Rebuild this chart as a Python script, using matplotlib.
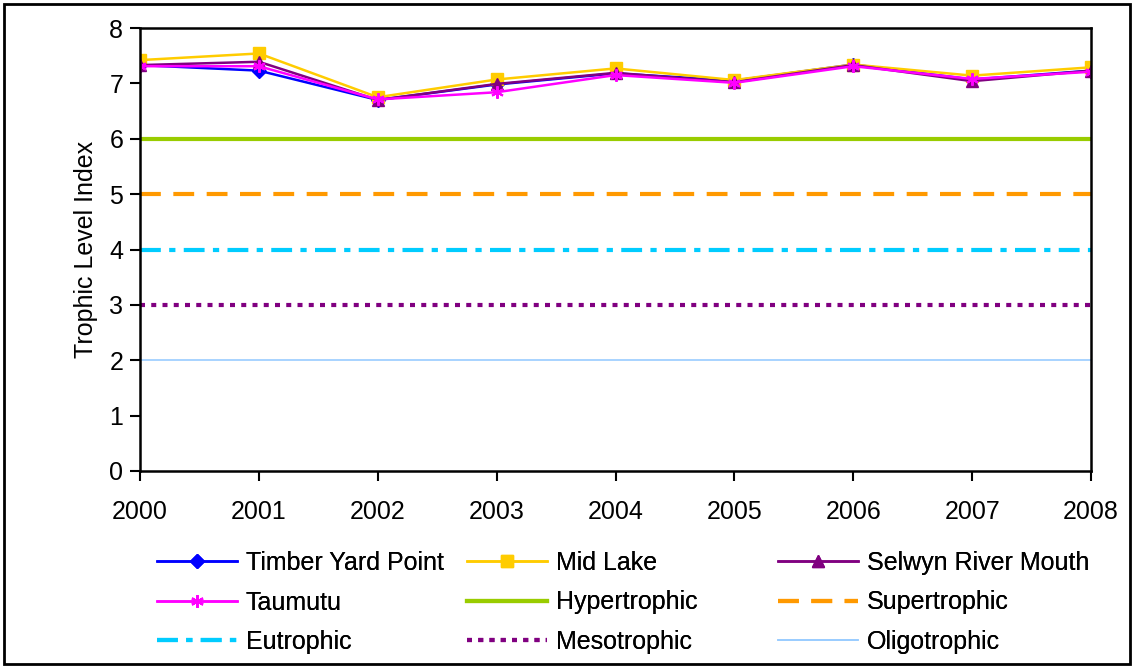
import matplotlib.pyplot as plt
import matplotlib.patches as patches
import numpy as np

plt.rcParams['font.family'] = ['Liberation Sans', 'DejaVu Sans']

years = [2000, 2001, 2002, 2003, 2004, 2005, 2006, 2007, 2008]

timber_yard = [7.33, 7.23, 6.70, 6.98, 7.18, 7.05, 7.34, 7.07, 7.23]
mid_lake = [7.42, 7.54, 6.75, 7.07, 7.27, 7.06, 7.34, 7.14, 7.29]
selwyn = [7.33, 7.39, 6.70, 6.99, 7.19, 7.02, 7.33, 7.04, 7.23]
taumutu = [7.31, 7.31, 6.71, 6.84, 7.15, 7.01, 7.31, 7.08, 7.21]

# trophic state boundaries
hypertrophic = 6
supertrophic = 5
eutrophic = 4
mesotrophic = 3
oligotrophic = 2

W, H = 1133, 667
fig = plt.figure(figsize=(W / 100, H / 100), dpi=100)
ax = fig.add_axes([140 / W, 1 - 471 / H, 951 / W, 443 / H])

x = np.arange(len(years))

# outer frame of the figure
fig.patches.append(patches.Rectangle((4 / W, 3 / H), 1126 / W, 660 / H,
                                     transform=fig.transFigure, fill=False,
                                     edgecolor='black', linewidth=2))

h_typ, = ax.plot(x, timber_yard, color='#0000FF', lw=1.8, marker='D', ms=7,
                 label='Timber Yard Point')
h_mid, = ax.plot(x, mid_lake, color='#FFCC00', lw=1.8, marker='s', ms=8,
                 label='Mid Lake')
h_sel, = ax.plot(x, selwyn, color='#800080', lw=1.8, marker='^', ms=9,
                 label='Selwyn River Mouth')
h_tau, = ax.plot(x, taumutu, color='#FF00FF', lw=1.8, marker=(6, 2, 0), ms=9,
                 mew=1.5, label='Taumutu')

h_hyp = ax.axhline(hypertrophic, color='#99CC00', lw=3, label='Hypertrophic')
h_sup = ax.axhline(supertrophic, color='#FF9900', lw=3, ls=(0, (5, 3)),
                   label='Supertrophic')
h_eu = ax.axhline(eutrophic, color='#00CCFF', lw=3, ls=(0, (5, 2, 1.5, 2)),
                  label='Eutrophic')
h_meso = ax.axhline(mesotrophic, color='#800080', lw=3, ls=(0, (1.2, 1.5)),
                    label='Mesotrophic')
h_oli = ax.axhline(oligotrophic, color='#99CCFF', lw=1.2, label='Oligotrophic')

ax.set_xlim(0, len(years) - 1)
ax.set_ylim(0, 8)
ax.set_xticks(x)
ax.set_xticklabels([str(y) for y in years], fontsize=18)
ax.set_yticks(range(0, 9))
ax.tick_params(axis='y', labelsize=18, direction='out', length=7, width=1.5, pad=5)
ax.tick_params(axis='x', direction='out', length=7, width=1.5, pad=14)
ax.set_ylabel('Trophic Level Index', fontsize=18, labelpad=8)
for s in ax.spines.values():
    s.set_linewidth(1.8)

# one legend per column so each column sits at its own x position
columns = [
    ([h_typ, h_tau, h_eu], 157),
    ([h_mid, h_hyp, h_meso], 467),
    ([h_sel, h_sup, h_oli], 778),
]
for hs, left in columns:
    leg = fig.legend(handles=hs, labels=[h.get_label() for h in hs],
                     loc='upper left', bbox_to_anchor=(left / W, 1 - 551 / H),
                     frameon=False, fontsize=18, handlelength=3.2,
                     handletextpad=0.35, labelspacing=0.62, borderpad=0,
                     borderaxespad=0)
    fig.add_artist(leg)

fig.savefig('out.png', dpi=100)
